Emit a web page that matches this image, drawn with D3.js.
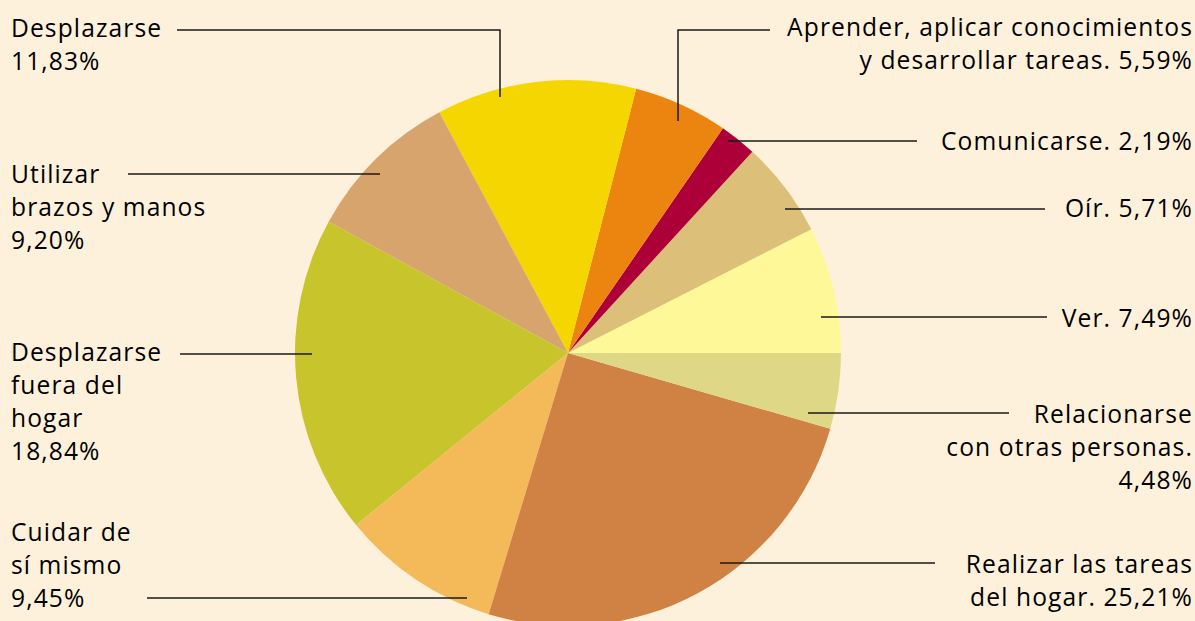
<!DOCTYPE html>
<html>
<head>
<meta charset="utf-8">
<script src="https://cdn.jsdelivr.net/npm/d3@7"></script>
<style>
  html, body { margin: 0; padding: 0; background: #fdf1dc; }
  svg { display: block; }
  text { font-family: "Open Sans", "Noto Sans", sans-serif; font-size: 24.6px; letter-spacing: 1.1px; fill: #000; }
</style>
</head>
<body>
<svg id="chart" width="1195" height="621"></svg>
<script>
// slices, counterclockwise from 3 o'clock
var categories = ["Ver", "Oír", "Comunicarse", "Aprender, aplicar conocimientos y desarrollar tareas",
  "Desplazarse", "Utilizar brazos y manos", "Desplazarse fuera del hogar", "Cuidar de sí mismo",
  "Realizar las tareas del hogar", "Relacionarse con otras personas"];
var values = [7.49, 5.71, 2.19, 5.59, 11.83, 9.20, 18.84, 9.45, 25.21, 4.48];
var labelLines = [
  ["Ver. 7,49%"],
  ["Oír. 5,71%"],
  ["Comunicarse. 2,19%"],
  ["Aprender, aplicar conocimientos", "y desarrollar tareas. 5,59%"],
  ["Desplazarse", "11,83%"],
  ["Utilizar", "brazos y manos", "9,20%"],
  ["Desplazarse", "fuera del", "hogar", "18,84%"],
  ["Cuidar de", "sí mismo", "9,45%"],
  ["Realizar las tareas", "del hogar. 25,21%"],
  ["Relacionarse", "con otras personas.", "4,48%"]
];
var colors = ["#fff899", "#dcc07a", "#ae0038", "#eb8510", "#f5d600", "#d7a46e",
  "#c8c42c", "#f4ba5a", "#d08144", "#ded785"];

// label placement: text anchor point, first baseline, leader polyline
var layout = [
  { x: 1193, y: 327, anchor: "end", line: [[821, 317], [1047, 317]] },
  { x: 1193, y: 217, anchor: "end", line: [[785, 209], [1045, 209]] },
  { x: 1193, y: 150, anchor: "end", line: [[728, 141], [917, 141]] },
  { x: 1193, y: 36, anchor: "end", line: [[678, 121], [678, 30], [770, 30]] },
  { x: 11, y: 37, anchor: "start", line: [[177, 30], [500, 30], [500, 97]] },
  { x: 11, y: 183, anchor: "start", line: [[128, 174], [380, 174]] },
  { x: 11, y: 361, anchor: "start", line: [[180, 354], [312, 354]] },
  { x: 11, y: 541, anchor: "start", line: [[147, 598], [467, 598]] },
  { x: 1193, y: 573, anchor: "end", line: [[720, 563], [935, 563]] },
  { x: 1193, y: 423, anchor: "end", line: [[808, 413], [1009, 413]] }
];
var lineHeight = 33;

var svg = d3.select("#chart"),
    cx = 568, cy = 353, radius = 273;

var g = svg.append("g").attr("transform", "translate(" + cx + "," + cy + ")");

var pie = d3.pie()
  .sort(null)
  .startAngle(Math.PI / 2)
  .endAngle(Math.PI / 2 - 2 * Math.PI);

var arc = d3.arc().innerRadius(0).outerRadius(radius);

g.selectAll("path.slice")
  .data(pie(values))
  .enter()
  .append("path")
  .attr("class", "slice")
  .attr("fill", function(d, i) { return colors[i]; })
  .attr("d", arc);

// leader lines
var lineGen = d3.line();
svg.selectAll("path.leader")
  .data(layout)
  .enter()
  .append("path")
  .attr("class", "leader")
  .attr("d", function(d) { return lineGen(d.line); })
  .attr("fill", "none")
  .attr("stroke", "#1a1a1a")
  .attr("stroke-width", 1.5);

// labels
var labels = svg.selectAll("text.label")
  .data(layout)
  .enter()
  .append("text")
  .attr("class", "label")
  .attr("text-anchor", function(d) { return d.anchor; });

labels.each(function(d, i) {
  var t = d3.select(this);
  labelLines[i].forEach(function(s, j) {
    t.append("tspan").attr("x", d.x).attr("y", d.y + j * lineHeight).text(s);
  });
});
</script>
</body>
</html>
